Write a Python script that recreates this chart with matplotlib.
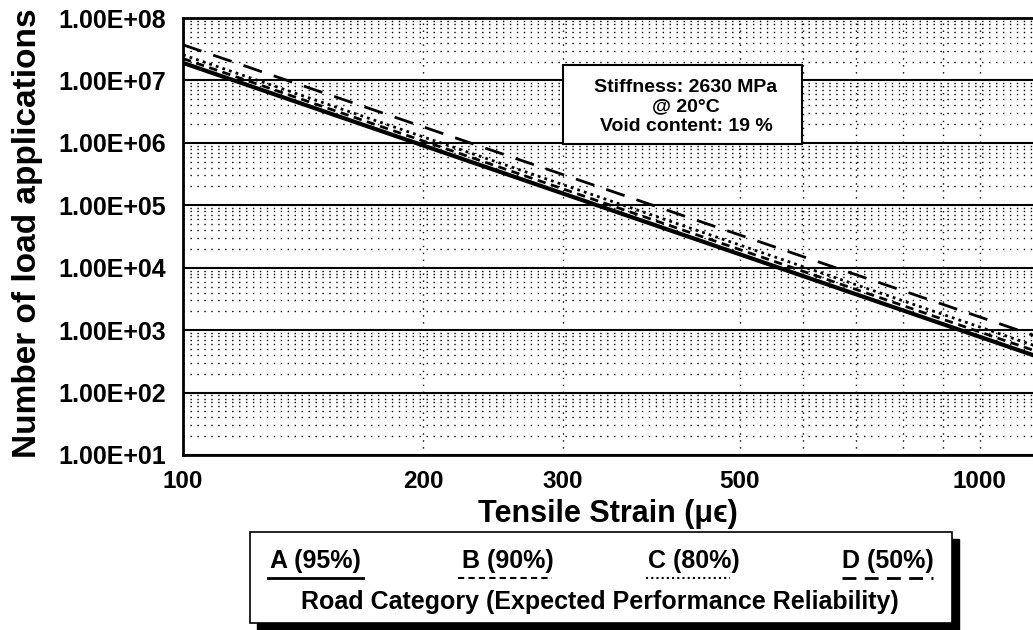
# Fatigue lines: load applications vs tensile strain
import matplotlib
matplotlib.use('Agg')
import matplotlib.pyplot as plt
from matplotlib.patches import Rectangle
from matplotlib.lines import Line2D
from matplotlib.ticker import FixedLocator, NullFormatter

plt.rcParams['font.family'] = ['Liberation Sans', 'DejaVu Sans']
plt.rcParams['font.weight'] = 'bold'

# data (straight lines on log-log axes)
strain = [100, 1200]
cat_a = [1.91e7, 351]
cat_b = [2.24e7, 421]
cat_c = [2.57e7, 507]
cat_d = [3.72e7, 733]

x_ticks = [100, 200, 300, 500, 1000]
x_minor = [600, 700, 800, 900]
y_ticks = [1e1, 1e2, 1e3, 1e4, 1e5, 1e6, 1e7, 1e8]
y_labels = ['1.00E+01', '1.00E+02', '1.00E+03', '1.00E+04',
            '1.00E+05', '1.00E+06', '1.00E+07', '1.00E+08']
legend_names = ['A (95%)', 'B (90%)', 'C (80%)', 'D (50%)']

W, H = 1033, 630
fig = plt.figure(figsize=(W / 100, H / 100), dpi=100)
ax = fig.add_axes([183 / W, 1 - 455 / H, 1 - 183 / W, (455 - 18) / H])

styles = ['-', (0, (3, 2)), (0, (1, 1.5)), (0, (7, 4.5))]
widths = [3, 2, 2, 2]
for ys, ls, lw in zip([cat_a, cat_b, cat_c, cat_d], styles, widths):
    ax.plot(strain, ys, color='black', linestyle=ls, linewidth=lw, zorder=3)

ax.set_xscale('log')
ax.set_yscale('log')
ax.set_xlim(100, 1166)
ax.set_ylim(1e1, 1e8)

ax.xaxis.set_major_locator(FixedLocator(x_ticks))
ax.set_xticklabels([str(v) for v in x_ticks])
ax.xaxis.set_minor_locator(FixedLocator(x_minor))
ax.xaxis.set_minor_formatter(NullFormatter())
ax.set_yticks(y_ticks)
ax.set_yticklabels(y_labels)
ax.tick_params(which='both', length=0)
ax.tick_params(axis='y', pad=12, labelsize=18)
ax.tick_params(axis='x', pad=11, labelsize=17.5)

ax.grid(which='major', axis='y', color='black', linestyle='-', linewidth=1.5)
ax.grid(which='minor', axis='y', color='black', linestyle=(0, (1, 4)), linewidth=1)
ax.grid(which='both', axis='x', color='black', linestyle=(0, (1, 4)), linewidth=1)

for side in ['left', 'bottom', 'top']:
    ax.spines[side].set_linewidth(2)
ax.spines['right'].set_visible(False)

ax.set_xlabel('Tensile Strain (μϵ)', fontsize=22, fontweight='bold', labelpad=4)
fig.text(0.027, 1 - 233 / H, 'Number of load applications', rotation=90,
         fontsize=24, fontweight='bold', ha='center', va='center')

# info box
fig.add_artist(Rectangle((563 / W, 1 - 144 / H), 239 / W, 79 / H,
                         transform=fig.transFigure, facecolor='white',
                         edgecolor='black', linewidth=1.5, zorder=5))
fig.text(686 / W, 1 - 107 / H, 'Stiffness: 2630 MPa\n@ 20°C\nVoid content: 19 %',
         fontsize=14, fontweight='bold', ha='center', va='center',
         linespacing=1.22, zorder=6)

# legend box with shadow
fig.add_artist(Rectangle((257 / W, 0), 702 / W, (630 - 539) / H,
                         transform=fig.transFigure, facecolor='black',
                         edgecolor='black', zorder=4))
fig.add_artist(Rectangle((250 / W, 1 - 623 / H), 702 / W, 91 / H,
                         transform=fig.transFigure, facecolor='white',
                         edgecolor='black', linewidth=1.2, zorder=5))

text_x = [270, 462, 648, 842]
line_x = [(268, 363), (458, 552), (646, 730), (842, 933)]
line_ls = ['-', (0, (3, 2)), (0, (1, 1.5)), (0, (5, 3))]
line_lw = [2, 1.5, 1.5, 2]
for name, tx, (x0, x1), ls, lw in zip(legend_names, text_x, line_x, line_ls, line_lw):
    fig.text(tx / W, 1 - 568 / H, name, fontsize=18, fontweight='bold',
             ha='left', va='baseline', zorder=6)
    fig.add_artist(Line2D([x0 / W, x1 / W], [1 - 578 / H, 1 - 578 / H],
                          transform=fig.transFigure, color='black',
                          linestyle=ls, linewidth=lw, zorder=6))

fig.text(600 / W, 1 - 609 / H, 'Road Category (Expected Performance Reliability)',
         fontsize=18, fontweight='bold', ha='center', va='baseline', zorder=6)

plt.savefig('out.png', dpi=100)
